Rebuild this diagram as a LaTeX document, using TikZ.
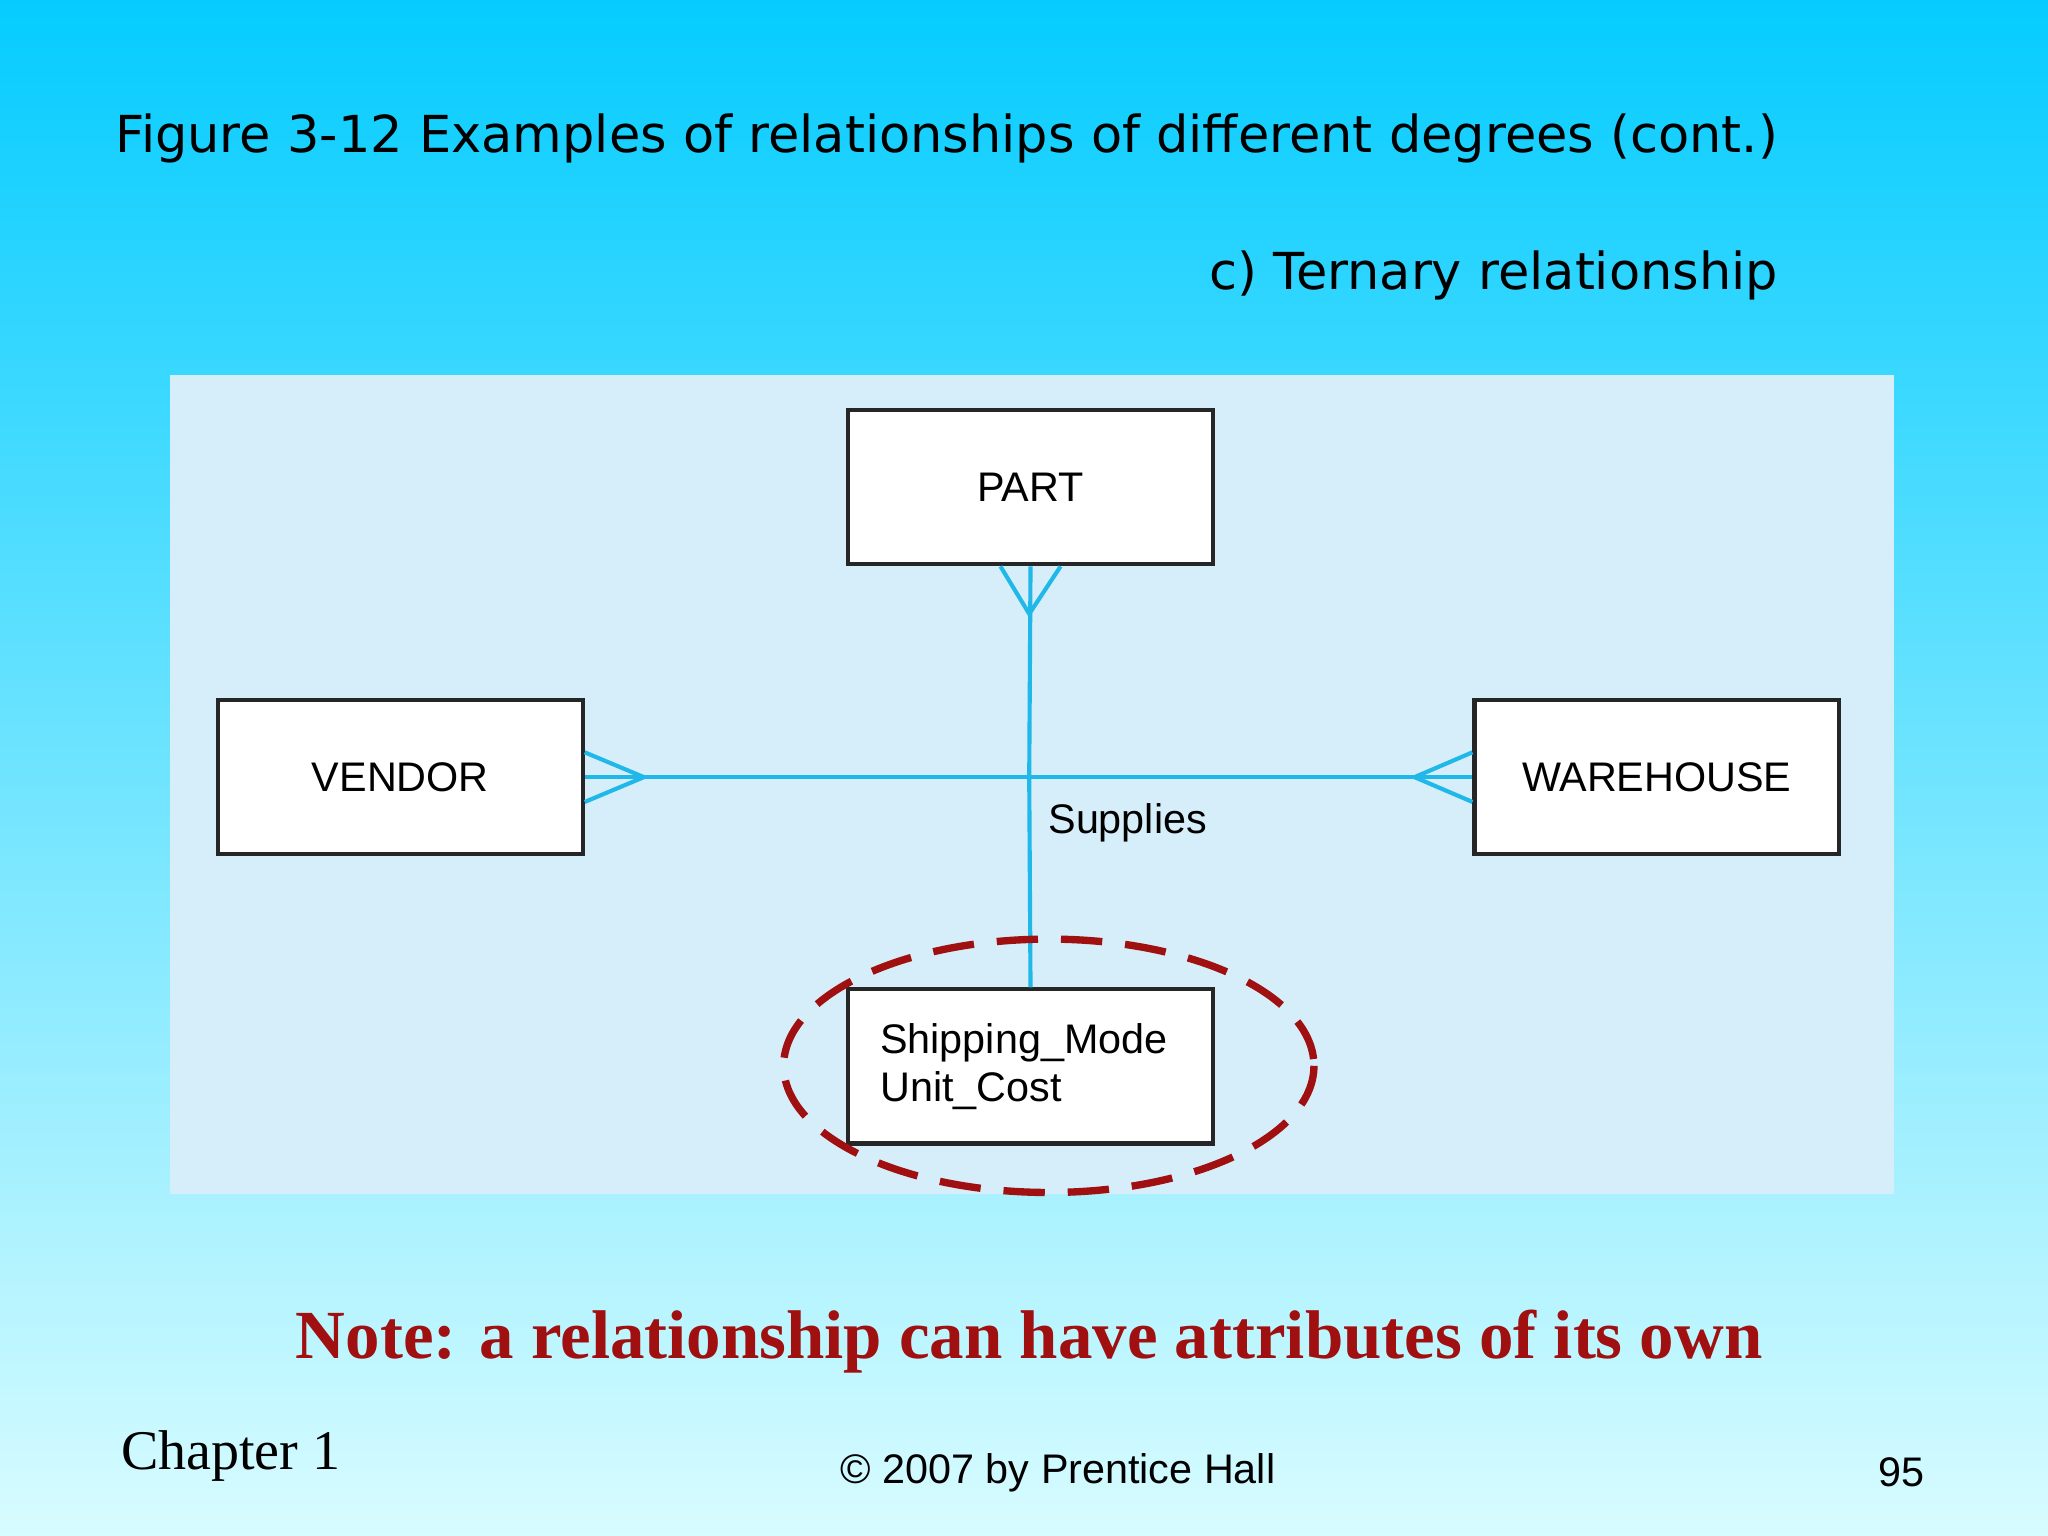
\documentclass[tikz,border=0pt]{standalone}
\usepackage{fontspec}
\setmainfont{DejaVu Sans}
\newfontfamily\arialf{Liberation Sans}
\newfontfamily\timesf{Liberation Serif}
\definecolor{topc}{HTML}{05CCFF}
\definecolor{botc}{HTML}{D8FCFF}
\definecolor{panel}{HTML}{D6EEFA}
\definecolor{lnc}{HTML}{20B8E8}
\definecolor{dred}{HTML}{A01010}
\begin{document}
\begin{tikzpicture}[x=0.01cm,y=-0.01cm,
  ent/.style={draw=black!85,fill=white,line width=0.9pt,minimum width=2.79cm,minimum height=1.18cm,inner sep=0pt,font=\arialf\fontsize{9}{10.5}\selectfont},
  txt/.style={inner sep=0pt},
  rel/.style={draw=lnc,line width=0.9pt}]
\useasboundingbox (0,0) rectangle (1568,1176);
\shade[top color=topc,bottom color=botc] (0,0) rectangle (1568,1176);
\fill[panel] (130,287) rectangle (1450,914);
\node[txt,anchor=base east,font=\fontsize{11.1}{13}\selectfont] (title) at (1362,117) {Figure 3-12 Examples of relationships of different degrees (cont.)};
\node[txt,anchor=base east,font=\fontsize{11.1}{13}\selectfont] (sub) at (1362,222) {c) Ternary relationship};
\node[ent] (part) at (789,373) {PART};
\node[ent] (vendor) at (306.5,595) {VENDOR};
\node[ent] (wh) at (1268.5,595) {WAREHOUSE};
\coordinate (x) at (788,595);
\draw[rel] (part.south) -- (x);
\draw[rel] (vendor.east) -- (wh.west);
\node[ent,align=left,text width=2.3cm] (attr) at (789,816.5) {Shipping\_Mode\\Unit\_Cost};
\draw[rel] (x) -- (attr.north);
\coordinate (pf) at (788,470);
\draw[rel] ([xshift=-0.23cm]part.south) -- (pf) -- ([xshift=0.23cm]part.south);
\coordinate (vf) at (493,595);
\draw[rel] ([yshift=0.19cm]vendor.east) -- (vf) -- ([yshift=-0.19cm]vendor.east);
\coordinate (wf) at (1083,595);
\draw[rel] ([yshift=0.19cm]wh.west) -- (wf) -- ([yshift=-0.19cm]wh.west);
\node[txt,anchor=base west,font=\arialf\fontsize{9}{10.5}\selectfont] (sup) at (802,638) {Supplies};
\draw[dred,line width=1.6pt,dash pattern=on 9pt off 5pt] (803,816) ellipse [x radius=203,y radius=97];
\node[txt,anchor=base,font=\timesf\bfseries\fontsize{15}{17}\selectfont,text=dred] (note) at (788,1040) {Note: a relationship can have attributes of its own};
\node[txt,anchor=base west,font=\timesf\fontsize{12.2}{15}\selectfont] (ch) at (92,1125) {Chapter 1};
\node[txt,anchor=base,font=\arialf\fontsize{9}{11}\selectfont] (copy) at (810,1136) {© 2007 by Prentice Hall};
\node[txt,anchor=base east,font=\arialf\fontsize{9}{11}\selectfont] (pg) at (1474,1138) {95};
\end{tikzpicture}
\end{document}
